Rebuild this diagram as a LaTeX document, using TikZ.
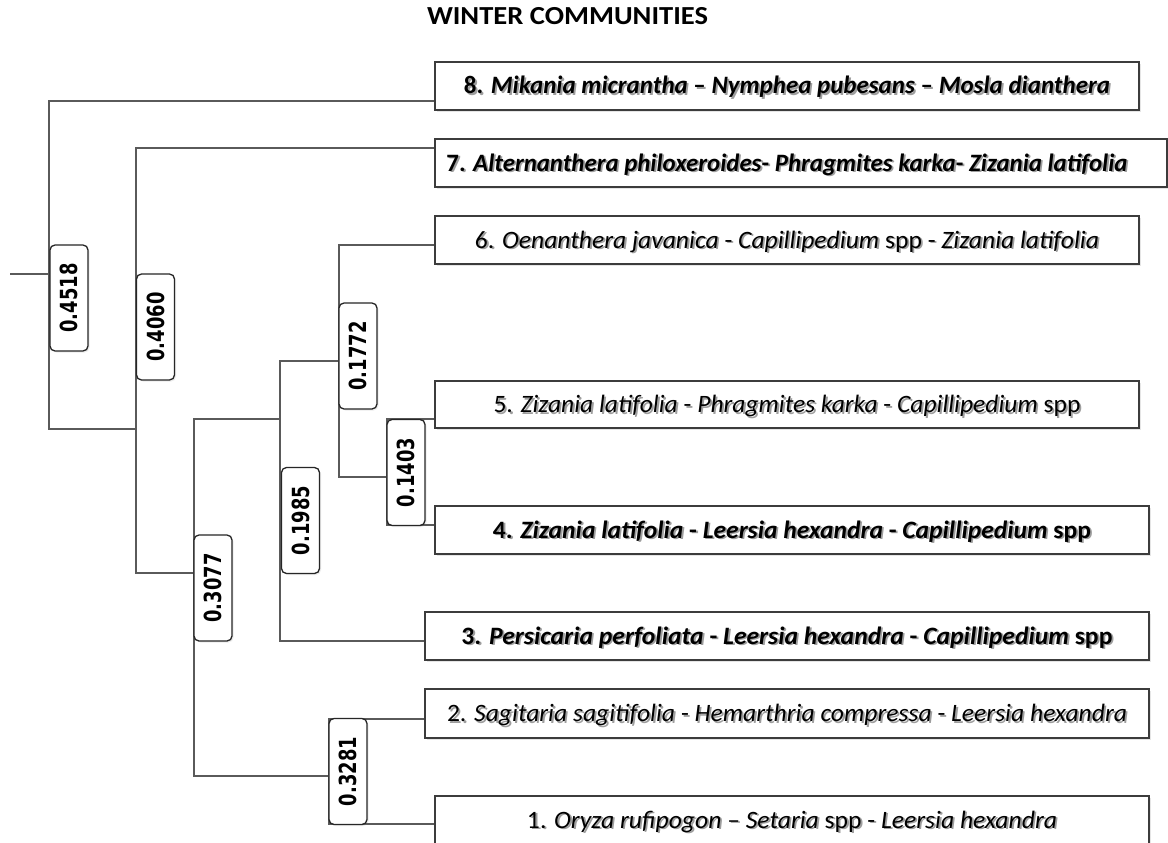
\documentclass[tikz,border=0pt]{standalone}
\usepackage{fontspec}
\setmainfont{Carlito}
\newfontfamily\numfont{DejaVu Sans Condensed}
\usetikzlibrary{shadows}
\definecolor{linegray}{HTML}{5A5A5A}
\definecolor{boxgray}{HTML}{3C3C3C}
\newcommand\shd[1]{\makebox[0pt][l]{\kern1.8pt\raisebox{-1.8pt}{\color{black!38}#1}}#1}
\newcommand\boxtext[2]{\resizebox{#1pt}{\height}{\fontsize{25}{29}\selectfont\shd{#2}}}
\newcommand\numtext[1]{\resizebox{69pt}{17.5pt}{\numfont\bfseries #1}}
\begin{document}
\begin{tikzpicture}[x=1pt,y=-1pt,
  link/.style={draw=linegray, line width=1.4pt},
  community/.style={draw=boxgray, line width=1.8pt, fill=white, inner sep=0pt,
    text height=16pt, text depth=0pt,
    drop shadow={shadow xshift=2pt, shadow yshift=-2pt, opacity=0.2, fill=gray}},
  dist/.style={draw=black!85, line width=1.3pt, fill=white, rounded corners=5pt,
    rotate=90, minimum width=106pt, minimum height=38pt, inner sep=0pt,
    text height=17.5pt, text depth=0pt,
    drop shadow={shadow xshift=1.5pt, shadow yshift=-1.5pt, opacity=0.15, fill=gray}}]
\fill[white] (0,0) rectangle (1168,843);
\useasboundingbox (0,0) rectangle (1168,843);

% title
\node[anchor=base, inner sep=0pt] (title) at (567.5,25)
  {\resizebox{281pt}{\height}{\fontsize{26}{30}\selectfont\bfseries WINTER COMMUNITIES}};

% community boxes
\node[community, minimum width=704pt, minimum height=48pt] (b8) at (787,86)
  {\boxtext{646}{\bfseries 8. \textit{Mikania micrantha} -- \textit{Nymphea pubesans} -- \textit{Mosla dianthera}}};
\node[community, minimum width=732pt, minimum height=48pt] (b7) at (801,163)
  {\boxtext{681}{\bfseries 7. \textit{Alternanthera philoxeroides}- \textit{Phragmites karka}- \textit{Zizania latifolia}}\hspace*{28pt}};
\node[community, minimum width=704pt, minimum height=48pt] (b6) at (787,240)
  {\boxtext{624}{6. \textit{Oenanthera javanica} - \textit{Capillipedium} spp - \textit{Zizania latifolia}}};
\node[community, minimum width=704pt, minimum height=47pt] (b5) at (787,404.5)
  {\boxtext{587}{5. \textit{Zizania latifolia} - \textit{Phragmites karka} - \textit{Capillipedium} spp}};
\node[community, minimum width=714pt, minimum height=48pt] (b4) at (792,530)
  {\boxtext{598}{\bfseries 4. \textit{Zizania latifolia} - \textit{Leersia hexandra} - \textit{Capillipedium} spp}};
\node[community, minimum width=724pt, minimum height=48pt] (b3) at (787,636)
  {\boxtext{651}{\bfseries 3. \textit{Persicaria perfoliata} - \textit{Leersia hexandra} - \textit{Capillipedium} spp}};
\node[community, minimum width=724pt, minimum height=49pt] (b2) at (787,713.5)
  {\boxtext{680}{2. \textit{Sagitaria sagitifolia} - \textit{Hemarthria compressa} - \textit{Leersia hexandra}}};
\node[community, minimum width=714pt, minimum height=48pt] (b1) at (792,820)
  {\boxtext{530}{1. \textit{Oryza rufipogon} -- \textit{Setaria} spp - \textit{Leersia hexandra}}};

% junctions
\coordinate (root) at (10,274);
\coordinate (nA) at (49,274);
\coordinate (aT) at (49,101);
\coordinate (aB) at (49,429);
\coordinate (bT) at (136,148);
\coordinate (bM) at (136,429);
\coordinate (bB) at (136,573);
\coordinate (cT) at (194,419);
\coordinate (cM) at (194,573);
\coordinate (cB) at (194,776);
\coordinate (dT) at (280,361);
\coordinate (dM) at (280,419);
\coordinate (dB) at (280,641);
\coordinate (eT) at (339,245);
\coordinate (eM) at (339,361);
\coordinate (eB) at (339,477);
\coordinate (fT) at (387,419);
\coordinate (fM) at (387,477);
\coordinate (fB) at (387,525);
\coordinate (gT) at (329,719);
\coordinate (gM) at (329,776);
\coordinate (gB) at (329,824);

% connectors
\draw[link] (root) -- (nA);
\draw[link] (aT -| b8.west) -- (aT) -- (aB) -- (bM);
\draw[link] (bT -| b7.west) -- (bT) -- (bB) -- (cM);
\draw[link] (dM) -- (cT) -- (cB) -- (gM);
\draw[link] (eM) -- (dT) -- (dB) -- (dB -| b3.west);
\draw[link] (eT -| b6.west) -- (eT) -- (eB) -- (fM);
\draw[link] (fT -| b5.west) -- (fT) -- (fB) -- (fB -| b4.west);
\draw[link] (gT -| b2.west) -- (gT) -- (gB) -- (gB -| b1.west);

% distance labels
\node[dist] (l4518) at (69,298) {\numtext{0.4518}};
\node[dist] (l4060) at (155.5,327) {\numtext{0.4060}};
\node[dist] (l1772) at (358,356) {\numtext{0.1772}};
\node[dist] (l1403) at (406,472.5) {\numtext{0.1403}};
\node[dist] (l1985) at (300.5,520.5) {\numtext{0.1985}};
\node[dist] (l3077) at (213,588) {\numtext{0.3077}};
\node[dist] (l3281) at (348,771.5) {\numtext{0.3281}};
\end{tikzpicture}
\end{document}
